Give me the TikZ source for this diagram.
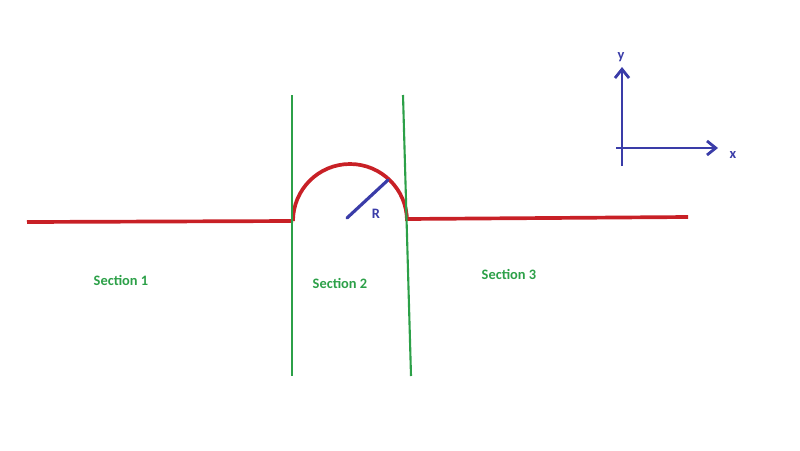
\documentclass[tikz,border=0pt]{standalone}
\usepackage{fontspec}
\setmainfont{Carlito}
\usepackage{tikz}
\usetikzlibrary{arrows.meta}

\definecolor{pipered}{RGB}{200,32,38}
\definecolor{wallgreen}{RGB}{44,160,72}
\definecolor{axisblue}{RGB}{58,60,168}

\begin{document}
\begin{tikzpicture}[x=0.02cm, y=-0.02cm,
    lbl/.style={text=wallgreen, font=\bfseries\fontsize{8.2}{10}\selectfont},
    axlbl/.style={text=axisblue, font=\bfseries\fontsize{8.2}{10}\selectfont},
    pipe/.style={draw=pipered, line width=2.1pt},
    wall/.style={draw=wallgreen, line width=1.2pt},
    axis/.style={draw=axisblue, line width=1.6pt}]
      \useasboundingbox (0,0) rectangle (800,450);
      % pipe
      \coordinate (a) at (27, 222);
      \coordinate (b) at (293, 221);
      \coordinate (c) at (407, 219);
      \coordinate (d) at (688, 217);
      \coordinate (m) at (347, 218);
      \coordinate (r) at (388, 180);
      \draw[pipe] (a) -- (b);
      \draw[pipe] (b) arc[start angle=180, end angle=0, x radius=57, y radius=-57];
      \draw[pipe] (c) -- (d);
      \draw[axisblue, line width=1.8pt, line cap=round] (m) -- (r);
      \node[axlbl] (R) at (376, 214) {R};
      % walls
      \coordinate (w1) at (292, 95);
      \coordinate (w2) at (292, 376);
      \coordinate (w3) at (403, 95);
      \coordinate (w4) at (411, 376);
      \draw[wall] (w1) -- (w2);
      \draw[wall] (w3) -- (w4);
      \node[lbl] (s1) at (121, 280) {Section 1};
      \node[lbl] (s2) at (340, 283) {Section 2};
      \node[lbl] (s3) at (509, 274) {Section 3};
      % axes
      \coordinate (oy) at (622, 166);
      \coordinate (ox) at (616, 148);
      \coordinate (ye) at (622, 67);
      \coordinate (xe) at (718, 148);
      \draw[axis, -{Straight Barb[length=5pt, width=8pt]}] (oy) -- (ye);
      \draw[axis, -{Straight Barb[length=5pt, width=8pt]}] (ox) -- (xe);
      \node[axlbl] (y) at (621, 57) {y};
      \node[axlbl] (x) at (733, 155) {x};
    \end{tikzpicture}
\end{document}
